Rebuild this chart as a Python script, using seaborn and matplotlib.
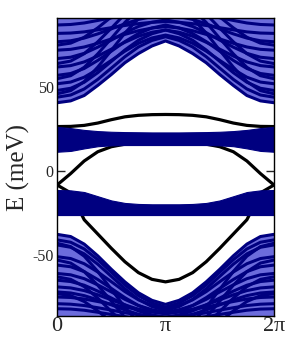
import numpy as np
import pandas as pd
import seaborn as sns
import matplotlib.pyplot as plt

sns.set_style('ticks')
plt.rcParams['font.family'] = ['Liberation Serif', 'DejaVu Serif']

# k grid: 0 .. pi in steps of pi/8 (values mirrored to 2pi)
k_steps = np.arange(17)
k = k_steps * np.pi / 8

# bulk band edges (meV), read at k = 0, pi/8, ..., pi
upper_edge = [40.7, 41.8, 45.0, 51.0, 57.5, 64.5, 70.0, 74.5, 77.5]
lower_edge = [-37.7, -39.0, -43.5, -50.5, -58.5, -66.0, -72.5, -77.0, -79.4]

# narrow bands near the gap
mid_up_top = [26.3, 25.6, 24.5, 23.8, 23.4, 23.2, 23.1, 23.0, 23.0]
mid_up_bot = [11.5, 12.0, 13.5, 14.8, 15.3, 15.5, 15.5, 15.5, 15.5]
mid_lo_top = [-11.3, -11.5, -12.5, -15.0, -17.5, -19.0, -19.6, -19.8, -19.8]
mid_lo_bot = [-26.2, -26.2, -26.2, -26.2, -26.2, -26.2, -26.2, -26.2, -26.2]

# edge states
state_a = [26.5, 26.6, 27.2, 28.6, 30.6, 32.3, 33.2, 33.6, 33.7]
state_b = [-8.3, -1.5, 6.0, 11.5, 14.5, 16.0, 17.0, 17.0, 17.0]
state_c = [-8.3, -13.0, -29.0, -37.5, -46.0, -54.0, -60.5, -64.5, -66.0]

# subbands inside the bulk continua
upper_sub = [
    [44.0, 45.3, 48.9, 54.6, 61.3, 68.1, 73.9, 77.8, 80.0],
    [48.0, 49.3, 52.9, 58.6, 65.3, 72.1, 77.9, 81.8, 84.0],
    [52.0, 53.0, 55.9, 60.6, 65.9, 71.4, 76.1, 79.3, 81.0],
    [57.0, 58.1, 61.1, 65.9, 71.4, 77.1, 81.9, 85.2, 87.0],
    [62.0, 62.8, 65.0, 68.5, 72.6, 76.7, 80.3, 82.7, 84.0],
    [67.0, 67.8, 70.1, 73.8, 78.0, 82.4, 86.1, 88.6, 90.0],
    [72.0, 72.5, 73.9, 76.1, 78.7, 81.4, 83.6, 85.2, 86.0],
    [77.0, 77.6, 79.2, 81.7, 84.7, 87.7, 90.3, 92.0, 93.0],
    [82.0, 82.2, 82.9, 84.1, 85.4, 86.7, 87.8, 88.6, 89.0],
    [87.0, 87.3, 88.2, 89.7, 91.3, 93.0, 94.5, 95.5, 96.0],
    [46.0, 47.9, 53.3, 61.9, 71.9, 82.2, 90.8, 96.8, 100.0],
    [55.0, 56.8, 61.8, 69.8, 79.0, 88.5, 96.5, 102.0, 105.0],
    [64.0, 65.5, 69.9, 77.0, 85.1, 93.5, 100.5, 105.4, 108.0],
    [75.0, 76.2, 79.7, 85.3, 91.8, 98.5, 104.0, 107.9, 110.0],
]
lower_sub = [
    [-41.0, -42.4, -46.4, -52.8, -60.2, -67.8, -74.2, -78.6, -81.0],
    [-44.0, -45.4, -49.3, -55.5, -62.7, -70.1, -76.4, -80.7, -83.0],
    [-51.0, -52.1, -55.2, -60.1, -65.9, -71.8, -76.7, -80.1, -82.0],
    [-56.0, -57.0, -59.9, -64.6, -69.9, -75.4, -80.1, -83.3, -85.0],
    [-61.0, -61.8, -64.1, -67.8, -72.0, -76.4, -80.1, -82.6, -84.0],
    [-65.0, -65.8, -68.0, -71.5, -75.6, -79.7, -83.3, -85.7, -87.0],
    [-69.0, -69.6, -71.2, -73.7, -76.7, -79.7, -82.3, -84.0, -85.0],
    [-72.0, -72.6, -74.2, -76.7, -79.7, -82.7, -85.3, -87.0, -88.0],
    [-75.0, -75.3, -76.2, -77.7, -79.3, -81.0, -82.5, -83.5, -84.0],
    [-79.0, -79.3, -80.1, -81.4, -82.8, -84.4, -85.6, -86.5, -87.0],
    [-82.0, -82.2, -82.9, -84.1, -85.4, -86.7, -87.8, -88.6, -89.0],
    [-43.0, -45.0, -50.7, -59.8, -70.4, -81.2, -90.3, -96.6, -100.0],
    [-53.0, -54.8, -59.9, -68.0, -77.5, -87.2, -95.3, -100.9, -104.0],
    [-63.0, -64.5, -68.8, -75.7, -83.6, -91.8, -98.7, -103.4, -106.0],
    [-73.0, -74.2, -77.7, -83.3, -89.8, -96.5, -102.0, -105.9, -108.0],
]

xtick_labels = ['0', 'π', '2π']
ytick_values = [-50, 0, 50]


def mirror(half):
    return np.array(list(half) + list(half[-2::-1]))


navy = '#000080'
light = '#6c6cdc'

rows = []
for i, line in enumerate(upper_sub + [upper_edge] + lower_sub + [lower_edge]):
    for kk, e in zip(k, mirror(line)):
        rows.append({'k': kk, 'E': e, 'line': i})
bulk = pd.DataFrame(rows)

fig = plt.figure(figsize=(3.07, 3.55), dpi=100)
ax = fig.add_axes([0.186, 0.11, 0.7065, 0.839])

ax.fill_between(k, mirror(upper_edge), 120, color=light, lw=0, zorder=1)
ax.fill_between(k, -120, mirror(lower_edge), color=light, lw=0, zorder=1)

sns.lineplot(data=bulk, x='k', y='E', units='line', estimator=None,
             color=navy, lw=2.2, ax=ax, zorder=2, sort=False)

for s in [state_a, state_b, state_c]:
    sns.lineplot(x=k, y=mirror(s), color='black', lw=2.3, ax=ax, zorder=3)

ax.fill_between(k, mirror(mid_up_bot), mirror(mid_up_top), color=navy, lw=0.8,
                edgecolor=navy, zorder=4)
ax.fill_between(k, mirror(mid_lo_bot), mirror(mid_lo_top), color=navy, lw=0.8,
                edgecolor=navy, zorder=4)

ax.set_xlim(0, 2 * np.pi)
ax.set_ylim(-86.3, 91.1)
ax.set_xticks([0, np.pi, 2 * np.pi])
ax.set_xticklabels(xtick_labels, fontsize=16)
ax.set_yticks(ytick_values)
ax.set_yticklabels([str(v) for v in ytick_values], fontsize=11.5)
ax.tick_params(axis='y', direction='in', length=6, width=1, right=True, pad=2.5)
ax.tick_params(axis='x', direction='in', length=0, pad=1)
ax.set_xlabel('')
ax.set_ylabel('E (meV)', fontsize=18)
ax.yaxis.set_label_coords(-0.125, 0.5)

for sp in ax.spines.values():
    sp.set_visible(True)
    sp.set_color('black')
    sp.set_linewidth(1.0)
    sp.set_zorder(6)

fig.savefig('out.png', dpi=100)
